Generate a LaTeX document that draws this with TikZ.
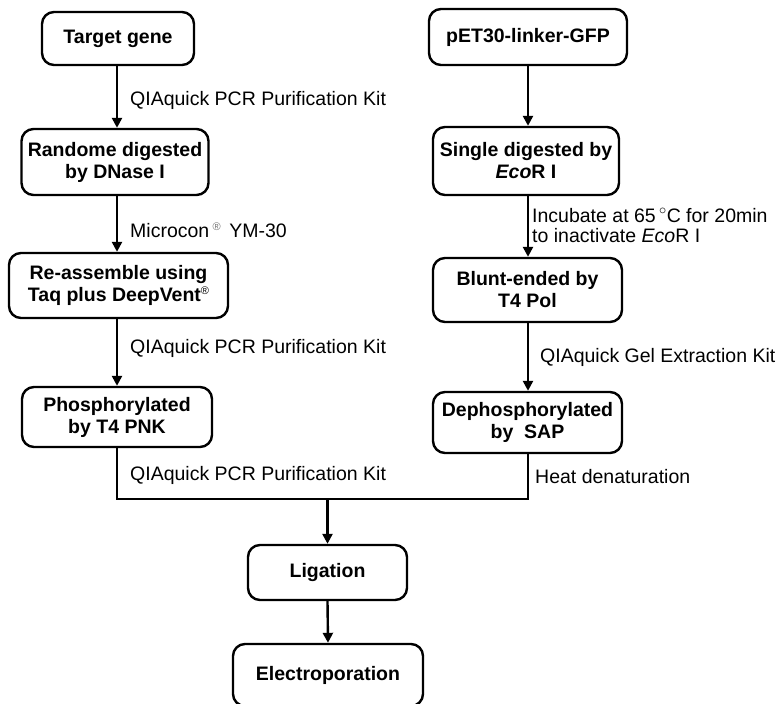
\documentclass[tikz,border=0pt]{standalone}
\usepackage{fontspec}
\setmainfont{Liberation Sans}
\usetikzlibrary{arrows.meta}
\tikzset{
  every picture/.style={x=1pt,y=-1pt},
  box/.style={draw, line width=2.4pt, rounded corners=12pt, align=center,
    font=\fontsize{19.5}{22}\selectfont\bfseries, inner sep=0pt},
  lbl/.style={anchor=west, inner sep=0pt, align=left,
    font=\fontsize{19.5}{20}\selectfont},
  conn/.style={line width=2.4pt},
  arr/.style={line width=2.4pt, -{Triangle[length=10pt,width=10pt]}}
}
\newcommand{\regmark}{{\fontsize{11}{11}\selectfont\mdseries\raisebox{7pt}{®}}}
\begin{document}
\begin{tikzpicture}
\useasboundingbox (0,0) rectangle (777,704);
\clip (0,0) rectangle (777,704);
% column guides
\coordinate (cL) at (117,0);
\coordinate (cR) at (528,0);
% left column
\node[box, minimum width=152pt, minimum height=53pt] (tg) at (118,38.5) {Target gene};
\node[box, minimum width=187pt, minimum height=66pt] (rd) at (115,162) {Randome digested\\by DNase I};
\node[box, minimum width=219pt, minimum height=65pt] (ra) at (118.5,285.5) {Re-assemble using\\Taq plus DeepVent\regmark};
\node[box, minimum width=190pt, minimum height=60pt] (ph) at (117,417) {Phosphorylated\\by T4 PNK};
% right column
\node[box, minimum width=198pt, minimum height=56pt] (pe) at (528,37) {pET30-linker-GFP};
\node[box, minimum width=186pt, minimum height=68pt] (sd) at (526,161) {Single digested by\\\textit{Eco}R I};
\node[box, minimum width=189pt, minimum height=64pt] (bl) at (527.5,290) {Blunt-ended by\\T4 Pol};
\node[box, minimum width=189pt, minimum height=61pt] (dp) at (527.5,422.5) {Dephosphorylated\\by~~SAP};
% bottom
\node[box, minimum width=159pt, minimum height=55pt] (lig) at (327.5,572.5) {Ligation};
\node[box, minimum width=190pt, minimum height=62pt] (el) at (328,675) {Electroporation};
% labels
\node[lbl] (l1) at (130,100) {QIAquick PCR Purification Kit};
\node[lbl] (l2) at (130,230) {Microcon\,{\color{black!55}\regmark}\, YM-30};
\node[lbl] (l3) at (130,348) {QIAquick PCR Purification Kit};
\node[lbl] (l4) at (130,475) {QIAquick PCR Purification Kit};
\node[lbl] (r1) at (532,225.5) {Incubate at 65\,$^{\circ}$C for 20min\\to inactivate \textit{Eco}R I};
\node[lbl] (r2) at (540,357) {QIAquick Gel Extraction Kit};
\node[lbl] (r3) at (535,477) {Heat denaturation};
% connectors
\draw[arr] (tg.south -| cL) -- (rd.north -| cL);
\draw[arr] (rd.south -| cL) -- (ra.north -| cL);
\draw[arr] (ra.south -| cL) -- (ph.north -| cL);
\draw[arr] (pe.south -| cR) -- (sd.north -| cR);
\draw[arr] (sd.south -| cR) -- (bl.north -| cR);
\draw[arr] (bl.south -| cR) -- (dp.north -| cR);
\coordinate (mid) at (327.5,499);
\draw[conn] (ph.south -| cL) |- (mid) -| (dp.south -| cR);
\draw[arr] (mid) -- (lig.north);
\draw[arr] (lig.south) -- (el.north);
\end{tikzpicture}
\end{document}
